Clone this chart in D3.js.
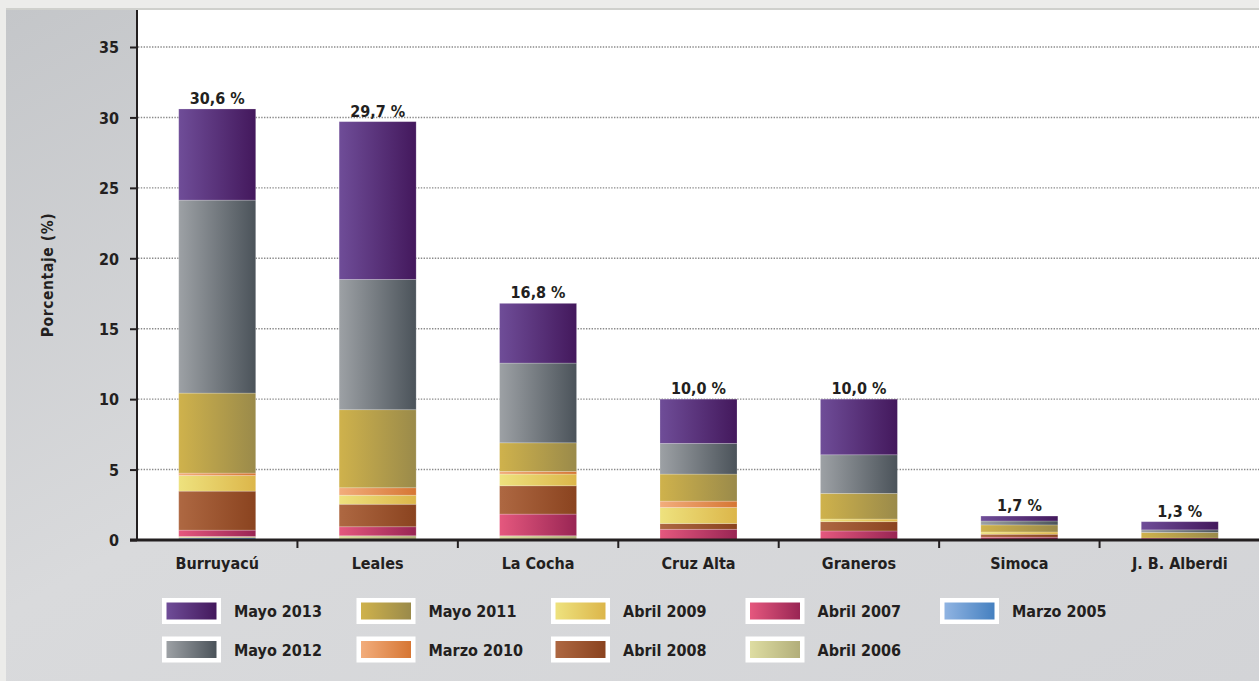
<!DOCTYPE html>
<html><head><meta charset="utf-8">
<script src="https://cdn.jsdelivr.net/npm/d3@7"></script>
<style>
html,body{margin:0;padding:0;background:#ececea;}
svg{display:block;}
text{font-family:"DejaVu Sans Condensed","DejaVu Sans",sans-serif;font-weight:bold;fill:#231f20;}
</style></head>
<body><svg id="c" width="1259" height="681"></svg>
<script>
const categories = ["Burruyacú","Leales","La Cocha","Cruz Alta","Graneros","Simoca","J. B. Alberdi"];
const totalLabels = ["30,6 %","29,7 %","16,8 %","10,0 %","10,0 %","1,7 %","1,3 %"];
const seriesNames = ["Marzo 2005","Abril 2006","Abril 2007","Abril 2008","Abril 2009","Marzo 2010","Mayo 2011","Mayo 2012","Mayo 2013"];
const marzo2005 = [0.15, 0,    0,    0,    0,    0,    0];
const abril2006 = [0.10, 0.30, 0.30, 0,    0,    0,    0];
const abril2007 = [0.45, 0.64, 1.54, 0.76, 0.64, 0.20, 0.14];
const abril2008 = [2.77, 1.60, 2.01, 0.41, 0.66, 0.21, 0];
const abril2009 = [1.11, 0.64, 0.83, 1.14, 0.19, 0.16, 0];
const marzo2010 = [0.17, 0.53, 0.19, 0.45, 0,    0,    0];
const mayo2011  = [5.68, 5.54, 2.03, 1.92, 1.82, 0.50, 0.40];
const mayo2012  = [13.7, 9.25, 5.66, 2.18, 2.74, 0.28, 0.18];
const mayo2013  = [6.47, 11.2, 4.24, 3.14, 3.95, 0.35, 0.58];
const yTicks = [0,5,10,15,20,25,30,35];
const legendRows = [["Mayo 2013","Mayo 2011","Abril 2009","Abril 2007","Marzo 2005"],["Mayo 2012","Marzo 2010","Abril 2008","Abril 2006"]];

const seriesValues = [marzo2005,abril2006,abril2007,abril2008,abril2009,marzo2010,mayo2011,mayo2012,mayo2013];
const colors = {
  "Mayo 2013":["#6f4d98","#43185c"],
  "Mayo 2012":["#9da1a5","#4b535a"],
  "Mayo 2011":["#cfb24c","#9a8a4a"],
  "Marzo 2010":["#f2ad7c","#d67634"],
  "Abril 2009":["#eee27e","#dcb64a"],
  "Abril 2008":["#ae6842","#8a431f"],
  "Abril 2007":["#e5587e","#992554"],
  "Abril 2006":["#dedda2","#b2ae7a"],
  "Marzo 2005":["#90b4e2","#4580c0"]
};

const table = categories.map((c,i)=>{const o={cat:c}; seriesNames.forEach((s,j)=>o[s]=seriesValues[j][i]); return o;});
const stack = d3.stack().keys(seriesNames)(table);

const svg = d3.select("#c");
const defs = svg.append("defs");
const gid = s => "g"+s.replace(/\s/g,"");
seriesNames.forEach(s=>{
  const g = defs.append("linearGradient").attr("id",gid(s)).attr("x1","0").attr("x2","1").attr("y1","0").attr("y2","0");
  g.append("stop").attr("offset","0").attr("stop-color",colors[s][0]);
  g.append("stop").attr("offset","1").attr("stop-color",colors[s][1]);
});
const bg = defs.append("linearGradient").attr("id","bg").attr("x1","0").attr("y1","0").attr("x2","1").attr("y2","1");
bg.append("stop").attr("offset","0").attr("stop-color","#c4c6c9");
bg.append("stop").attr("offset","0.45").attr("stop-color","#d9dadc");
bg.append("stop").attr("offset","1").attr("stop-color","#d3d4d7");

// panel
svg.append("rect").attr("x",0).attr("y",0).attr("width",1259).attr("height",681).attr("fill","#ececea");
svg.append("rect").attr("x",6).attr("y",8).attr("width",1253).attr("height",673).attr("fill","url(#bg)");
svg.append("rect").attr("x",6).attr("y",8).attr("width",1253).attr("height",2).attr("fill","#cfd0cc");

const x = d3.scaleBand().domain(categories).range([137,1260]).paddingInner(0.52).paddingOuter(0.26);
const y = d3.scaleLinear().domain([0,35]).range([540,47]);

// plot area
svg.append("rect").attr("x",137).attr("y",10).attr("width",1259-137).attr("height",530).attr("fill","#ffffff");

// grid
svg.append("g").selectAll("line").data(yTicks.filter(t=>t>0)).join("line")
  .attr("x1",138).attr("x2",1259).attr("y1",d=>y(d)).attr("y2",d=>y(d))
  .attr("stroke","#8a8a8a").attr("stroke-width",1.4).attr("stroke-dasharray","1.4,1.4");

// bars
svg.append("g").selectAll("g").data(stack).join("g")
  .attr("fill",d=>`url(#${gid(d.key)})`)
  .selectAll("rect").data(d=>d.filter(p=>p[1]-p[0]>0)).join("rect")
  .attr("x",d=>x(d.data.cat)).attr("width",x.bandwidth())
  .attr("y",d=>y(d[1])).attr("height",d=>y(d[0])-y(d[1]))
  .attr("stroke","rgba(255,255,255,0.25)").attr("stroke-width",0.8);

// total labels
svg.append("g").selectAll("text").data(categories).join("text")
  .attr("x",d=>x(d)+x.bandwidth()/2)
  .attr("y",(d,i)=>y(d3.sum(seriesValues,s=>s[i]))-5)
  .attr("text-anchor","middle").attr("font-size",16)
  .text((d,i)=>totalLabels[i]);

// y axis
const ya = svg.append("g").attr("transform","translate(137,0)")
  .call(d3.axisLeft(y).tickValues(yTicks).tickSize(7).tickPadding(11).tickFormat(d3.format("d")));
ya.select(".domain").remove();
ya.selectAll(".tick line").attr("stroke","#231f20").attr("stroke-width",2);
ya.selectAll(".tick text").attr("font-size",16).attr("font-family",null).attr("fill","#231f20").attr("dy","0.36em");
svg.append("line").attr("x1",137).attr("x2",137).attr("y1",10).attr("y2",541).attr("stroke","#231f20").attr("stroke-width",2);

// x axis
svg.append("line").attr("x1",130).attr("x2",1259).attr("y1",540).attr("y2",540).attr("stroke","#231f20").attr("stroke-width",3);
svg.append("g").selectAll("line").data(categories.slice(1)).join("line")
  .attr("x1",d=>x(d)-x.step()*0.26).attr("x2",d=>x(d)-x.step()*0.26)
  .attr("y1",540).attr("y2",548).attr("stroke","#231f20").attr("stroke-width",2);
svg.append("g").selectAll("text").data(categories).join("text")
  .attr("x",d=>x(d)+x.bandwidth()/2).attr("y",569)
  .attr("text-anchor","middle").attr("font-size",16).text(d=>d);

// y title
svg.append("text").attr("transform","translate(53,275) rotate(-90)")
  .attr("text-anchor","middle").attr("font-size",15.5).attr("letter-spacing",0.6).text("Porcentaje (%)");

// legend
const lg = svg.append("g");
legendRows.forEach((row,ri)=>{
  row.forEach((s,ci)=>{
    const lx = 162 + ci*194.5, ly = 598 + ri*38.5;
    lg.append("rect").attr("x",lx).attr("y",ly).attr("width",59).attr("height",26).attr("fill","#ffffff");
    lg.append("rect").attr("x",lx+4.5).attr("y",ly+4.5).attr("width",50).attr("height",17).attr("fill",`url(#${gid(s)})`);
    lg.append("text").attr("x",lx+72).attr("y",ly+19).attr("font-size",16).text(s);
  });
});
</script></body></html>
